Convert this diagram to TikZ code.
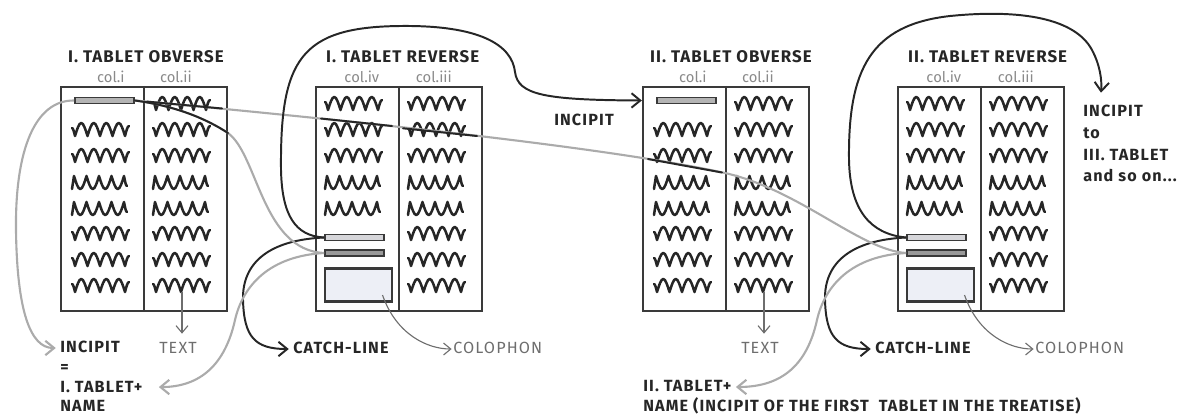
\documentclass[tikz,border=0pt]{standalone}
\usepackage{fontspec}
\setmainfont{Fira Sans}
\newfontfamily\headfont[LetterSpace=6]{Fira Sans}
\newfontfamily\tagfont[LetterSpace=7]{Fira Sans}
\usetikzlibrary{positioning, arrows.meta, calc}

\definecolor{inkgray}{HTML}{262626}
\definecolor{boxgray}{HTML}{3A3A3A}
\definecolor{linegray}{HTML}{ABABAB}
\definecolor{labelgray}{HTML}{6E6E6E}
\definecolor{colgray}{HTML}{8A8A8A}
\definecolor{barlight}{HTML}{D6D6DA}
\definecolor{bardark}{HTML}{9A9A9A}
\definecolor{barmid}{HTML}{B4B4B4}
\definecolor{colfill}{HTML}{EDEFF6}

\newcommand{\wavev}[2]{\draw[scribble] (#1,#2-2) cos ++(3,8)
  sin ++(6.25,-13) cos ++(6.25,13) sin ++(6.25,-13) cos ++(6.25,13)
  sin ++(6.25,-13) cos ++(6.25,13) sin ++(6.25,-13) cos ++(6.25,13) sin ++(4,-10);}
\newcommand{\wavem}[2]{\draw[scribble] (#1,#2+7) -- ++(2,-13)
  sin ++(6.25,13) cos ++(6.25,-13) sin ++(6.25,13) cos ++(6.25,-13)
  sin ++(6.25,13) cos ++(6.25,-13) sin ++(6.25,13) cos ++(6.25,-13) sin ++(3,10);}
\newcommand{\scrib}[2]{\ifnum#2=3 \wavem{#1}{104+26*#2}\else
  \ifnum#2=4 \wavem{#1}{104+26*#2}\else \wavev{#1}{104+26*#2}\fi\fi}

\tikzset{
  side/.style={draw=boxgray, line width=1.6pt, minimum width=4.15cm, minimum height=5.6cm, inner sep=0pt},
  head/.style={font=\headfont\fontsize{12}{14}\selectfont\bfseries, text=inkgray, anchor=west, inner sep=0pt},
  colname/.style={font=\fontsize{10.5}{12}\selectfont, text=colgray, inner sep=0pt},
  lbl/.style={font=\tagfont\fontsize{11.5}{13}\selectfont\bfseries, text=inkgray, inner sep=0pt, text height=8.5pt, text depth=1.5pt, anchor=west},
  note/.style={font=\tagfont\fontsize{11.5}{13}\selectfont, text=labelgray, inner sep=0pt, text height=8.5pt, text depth=1.5pt},
  scribble/.style={draw=inkgray, line width=1.8pt, line cap=round, line join=round},
  bar/.style={draw=boxgray, line width=1.2pt, minimum width=1.48cm, minimum height=0.15cm, inner sep=0pt},
  colbox/.style={draw=boxgray, line width=1.6pt, fill=colfill, minimum width=1.68cm, minimum height=0.82cm, inner sep=0pt},
  pale line/.style={draw=linegray, line width=1.5pt},
  dark line/.style={draw=inkgray, line width=1.4pt},
  thin line/.style={draw=labelgray, line width=0.8pt},
  strike/.style={draw=inkgray, line width=1.4pt, line cap=round},
  barb/.style={-{Straight Barb[length=2.2mm,width=3.6mm]}},
  smallbarb/.style={-{Straight Barb[length=1.8mm,width=3mm]}},
}

\begin{document}
\begin{tikzpicture}[x=0.025cm, y=-0.025cm]
\useasboundingbox (0,0) rectangle (1179,417);

\foreach \n/\dx in {I/0, II/582} {
  \node[side] (ob\n) at (144+\dx,199) {};
  \node[side] (rv\n) at (399+\dx,199) {};
  \draw[draw=boxgray, line width=1.6pt] (ob\n.north) -- (ob\n.south) (rv\n.north) -- (rv\n.south);
  \node[head] (hob\n) at ($(ob\n.north west)+(8,-29)$) {\n. TABLET OBVERSE};
  \node[head] (hrv\n) at ($(rv\n.north west)+(11,-29)$) {\n. TABLET REVERSE};
  \node[colname] (ci\n) at ($(ob\n.north west)+(51,-9)$) {col.i};
  \node[colname] (cii\n) at ($(ob\n.north west)+(116,-9)$) {col.ii};
  \node[colname] (civ\n) at ($(rv\n.north west)+(47,-9)$) {col.iv};
  \node[colname] (ciii\n) at ($(rv\n.north west)+(119,-9)$) {col.iii};

  \foreach \k in {1,...,7} {\scrib{72+\dx}{\k}}
  \foreach \k in {0,...,7} {\scrib{153+\dx}{\k}}
  \foreach \k in {0,...,4} {\scrib{325+\dx}{\k}}
  \foreach \k in {0,...,7} {\scrib{408+\dx}{\k}}

  \node[bar, fill=barmid] (bar\n) at (104.5+\dx,100.5) {};
  \node[bar, fill=barlight] (cat\n) at (354.5+\dx,237.5) {};
  \node[bar, fill=bardark] (rep\n) at (354.5+\dx,253) {};
  \node[colbox] (colo\n) at (358.5+\dx,285) {};

  \node[note] (txt\n) at (178+\dx,349) {TEXT};
  \node[lbl] (catl\n) at (293+\dx,349) {CATCH-LINE};
  \node[note, anchor=west] (colol\n) at (453+\dx,349) {COLOPHON};
  \coordinate (last\n) at (182+\dx,292);

  \draw[thin line, smallbarb, shorten >=2mm] (last\n) -- (last\n |- txt\n.north);
  \draw[thin line, smallbarb, shorten >=1pt] ($(colo\n.center)+(24,10)$) .. controls +(14,40) and +(-25,0) .. (colol\n.west);
  \draw[dark line, barb, shorten >=3pt] (cat\n.west) .. controls (270+\dx,240) and (242+\dx,262) .. (243+\dx,300)
    .. controls (244+\dx,337) and (255+\dx,349) .. (catl\n.west);
}

\node[lbl] (incI) at (60,348) {INCIPIT};
\node[lbl, below=3.5pt of incI.south west, anchor=north west] (eqI) {=};
\node[lbl, below=3.5pt of eqI.south west, anchor=north west] (nameI) {I. TABLET+};
\node[lbl, below=3.5pt of nameI.south west, anchor=north west] (restI) {NAME};
\node[lbl] (nameII) at (643,387) {II. TABLET+};
\node[lbl, below=3.5pt of nameII.south west, anchor=north west] (restII) {NAME (INCIPIT OF THE FIRST \ TABLET IN THE TREATISE)};

\node[lbl, anchor=center] (incM) at (584,121) {INCIPIT};
\node[lbl] (incN) at (1083,112) {INCIPIT};
\node[lbl, below=5pt of incN.south west, anchor=north west] (toN) {to};
\node[lbl, below=5pt of toN.south west, anchor=north west] (tabN) {III. TABLET};
\node[lbl, below=5pt of tabN.south west, anchor=north west] (soN) {and so on...};

\draw[pale line, barb, shorten >=3pt] (barI.west) .. controls (35,100) and (15,150) .. (16,230)
  .. controls (17,310) and (30,348) .. (incI.west);
\draw[pale line] (barI.east) .. controls (400,125) and (620,150) .. (725,173)
  .. controls (800,190) and (860,250) .. (repII.west);
\draw[pale line] (barI.east) .. controls (175,106) and (205,118) .. (228,133)
  .. controls (258,155) and (262,250) .. (repI.west);
\draw[pale line, barb, shorten >=0.4cm] (repI.west) .. controls (270,256) and (243,285) .. (235,320)
  .. controls (225,365) and (200,387) .. (nameI.east);
\draw[pale line, barb, shorten >=3pt] (repII.west) .. controls (852,256) and (825,285) .. (817,320)
  .. controls (807,365) and (782,387) .. (nameII.east);

\draw[strike] (barI.east) .. controls (175,106) and (205,118) .. (228,133);
\draw[strike] (147,101.6) -- (222,108.5);
\draw[strike] (321,118.5) -- (392,126);
\draw[strike] (403,128.3) -- (477,136);
\draw[strike] (648,159) -- (722,172.5);

\draw[dark line, barb] (catI.west) .. controls (295,236) and (282,215) .. (281,170)
  .. controls (280,60) and (300,27) .. (400,26) .. controls (480,25) and (512,45) .. (515,72)
  .. controls (518,95) and (545,100) .. (obII.west |- barII);
\draw[dark line, barb] (catII.west) .. controls (870,234) and (850,210) .. (849,160)
  .. controls (848,70) and (870,25) .. (950,16) .. controls (1020,9) and (1075,18) .. (1092,50)
  .. controls (1100,65) and (1102,80) .. ([xshift=-0.3cm, yshift=0.3cm]incN.north);
\end{tikzpicture}
\end{document}
